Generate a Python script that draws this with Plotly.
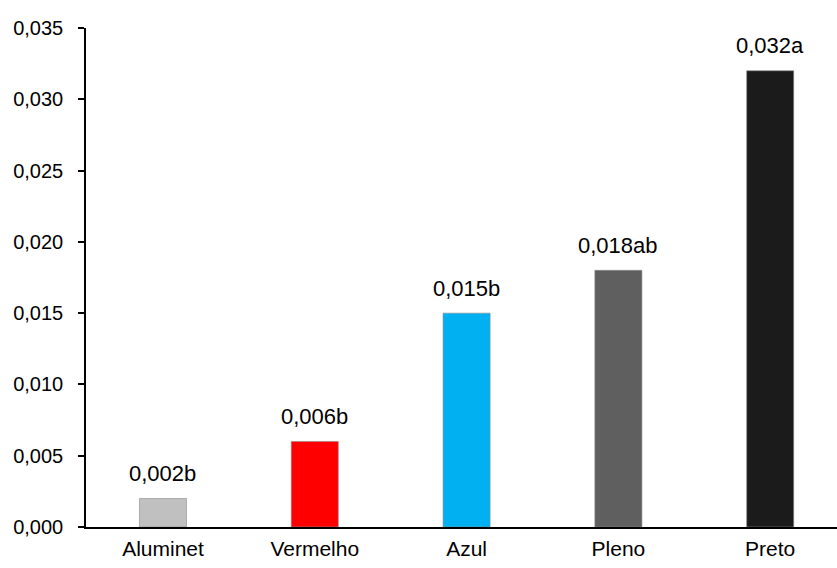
import plotly.graph_objects as go

categories = ["Aluminet", "Vermelho", "Azul", "Pleno", "Preto"]
values = [0.002, 0.006, 0.015, 0.018, 0.032]
letters = ["b", "b", "b", "ab", "a"]
colors = ["#c0c0c0", "#ff0000", "#00b0f0", "#5f5f5f", "#1b1b1b"]

labels = [f"{v:.3f}".replace(".", ",") + s for v, s in zip(values, letters)]
FONT = "Liberation Sans, Arial"

fig = go.Figure(
    go.Bar(
        x=categories,
        y=values,
        width=0.31,
        marker=dict(color=colors, line=dict(color="#8a8a8a", width=0.6)),
        cliponaxis=False,
    )
)

# value + significance letter above each bar
for cat, v, lab in zip(categories, values, labels):
    fig.add_annotation(
        x=cat, y=v, text=lab, showarrow=False,
        xanchor="center", yanchor="bottom", yshift=10.5,
        font=dict(size=22, color="black", family=FONT),
    )

fig.update_layout(
    width=837,
    height=568,
    margin=dict(l=86, r=0, t=28, b=41),
    paper_bgcolor="white",
    plot_bgcolor="white",
    separators=",.",
    showlegend=False,
    font=dict(family=FONT, size=20, color="black"),
    xaxis=dict(
        range=[-0.507, 4.44],
        showline=True,
        linecolor="black",
        linewidth=1.5,
        ticks="",
        showgrid=False,
        ticklabelstandoff=2,
        tickfont=dict(size=21),
    ),
    yaxis=dict(
        range=[0, 0.035],
        tick0=0,
        dtick=0.005,
        tickformat=".3f",
        showline=True,
        linecolor="black",
        linewidth=1.5,
        ticks="outside",
        ticklen=6,
        tickwidth=1.5,
        tickcolor="black",
        showgrid=False,
        zeroline=False,
        ticklabelstandoff=11,
        tickfont=dict(size=20),
    ),
)

fig.write_html("out.html")
